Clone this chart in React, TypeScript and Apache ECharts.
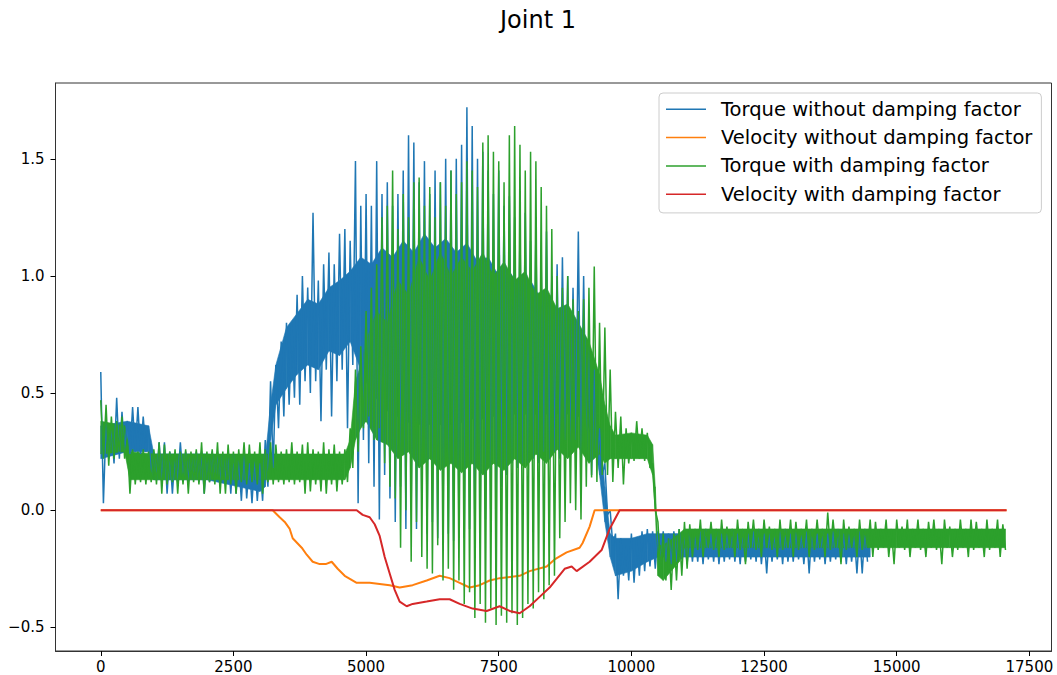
import React, { useEffect, useRef } from "react";
import * as echarts from "echarts";

const TITLE = "Joint 1";
const NAMES = [
  "Torque without damping factor",
  "Velocity without damping factor",
  "Torque with damping factor",
  "Velocity with damping factor",
];
const COLORS = ["#1f77b4", "#ff7f0e", "#2ca02c", "#d62728"];
const X_TICKS = [0, 2500, 5000, 7500, 10000, 12500, 15000, 17500];
const Y_TICKS = [-0.5, 0, 0.5, 1.0, 1.5];

// torque series: per 100-sample bin, the local max (hi) and local min (lo)
const BIN_SAMPLES = 100;

const blueHi = [
  0.59, 0.38, 0.36, 0.48, 0.42, 0.38, 0.44, 0.44, 0.40, 0.36,
  0.25, 0.29, 0.29, 0.25, 0.24, 0.29, 0.25, 0.24, 0.25, 0.25,
  0.24, 0.25, 0.25, 0.24, 0.25, 0.24, 0.22, 0.25, 0.20, 0.22,
  0.20, 0.30, 0.55, 0.62, 0.72, 0.80, 0.80, 0.92, 1.00, 0.95,
  1.27, 0.98, 1.05, 1.10, 1.05, 1.18, 1.20, 1.15, 1.49, 1.30,
  1.35, 1.30, 1.49, 1.35, 1.40, 1.30, 1.35, 1.45, 1.60, 1.57,
  1.40, 1.49, 1.35, 1.45, 1.40, 1.50, 1.45, 1.50, 1.56, 1.72,
  1.64, 1.50, 1.53, 1.45, 1.35, 1.45, 1.30, 1.34, 1.25, 1.20,
  1.27, 1.15, 1.19, 1.05, 1.19, 1.00, 1.05, 1.08, 1.00, 0.95,
  1.19, 1.00, 0.70, 0.60, 0.35, 0.20, 0.00, -0.10, -0.12, -0.15,
  -0.10, -0.12, -0.09, -0.08, -0.09, -0.09,
  -0.09, -0.10, -0.09, -0.08, -0.10, -0.09, -0.10, -0.09, -0.08, -0.10,
  -0.09, -0.10, -0.09, -0.08, -0.10, -0.09, -0.10, -0.09, -0.08, -0.10,
  -0.09, -0.10, -0.09, -0.08, -0.10, -0.09, -0.10, -0.09, -0.08, -0.10,
  -0.09, -0.10, -0.09, -0.08, -0.10, -0.09, -0.10, -0.09, -0.08,
];
const blueLo = [
  0.03, 0.22, 0.20, 0.22, 0.25, 0.24, 0.25, 0.24, 0.25, 0.14,
  0.13, 0.12, 0.07, 0.07, 0.12, 0.13, 0.12, 0.13, 0.12, 0.07,
  0.12, 0.13, 0.12, 0.12, 0.07, 0.07, 0.04, 0.05, 0.03, 0.04,
  0.04, 0.10, 0.18, 0.35, 0.40, 0.45, 0.48, 0.45, 0.55, 0.50,
  0.55, 0.38, 0.60, 0.40, 0.55, 0.60, 0.35, 0.62, 0.03, 0.30,
  0.20, 0.10, -0.04, 0.15, 0.05, -0.05, 0.10, -0.08, 0.00, -0.08,
  0.05, -0.10, -0.05, -0.12, -0.06, -0.10, -0.13, -0.08, -0.12, -0.08,
  -0.12, -0.08, -0.04, -0.02, 0.05, 0.10, 0.15, 0.20, 0.18, 0.20,
  0.20, 0.22, 0.20, 0.25, 0.22, 0.25, 0.22, 0.30, 0.25, 0.30,
  0.20, 0.25, 0.15, 0.20, 0.15, -0.02, -0.15, -0.38, -0.28, -0.30,
  -0.31, -0.28, -0.26, -0.24, -0.25, -0.22,
  -0.22, -0.23, -0.22, -0.21, -0.23, -0.22, -0.22, -0.23, -0.21, -0.22,
  -0.23, -0.22, -0.21, -0.22, -0.23, -0.22, -0.21, -0.22, -0.23, -0.27,
  -0.22, -0.21, -0.23, -0.22, -0.22, -0.21, -0.23, -0.27, -0.22, -0.21,
  -0.23, -0.22, -0.21, -0.22, -0.23, -0.22, -0.27, -0.27, -0.22,
];

const greenHi = [
  0.47, 0.45, 0.40, 0.38, 0.40, 0.30, 0.26, 0.25, 0.26, 0.25,
  0.26, 0.29, 0.28, 0.25, 0.26, 0.25, 0.26, 0.25, 0.26, 0.29,
  0.25, 0.26, 0.29, 0.25, 0.28, 0.25, 0.26, 0.29, 0.28, 0.25,
  0.29, 0.26, 0.29, 0.28, 0.25, 0.26, 0.29, 0.25, 0.28, 0.29,
  0.26, 0.25, 0.29, 0.26, 0.28, 0.25, 0.26, 0.35, 0.60, 0.70,
  0.85, 0.95, 1.05, 1.25, 1.30, 1.45, 1.20, 1.35, 1.25, 1.40,
  1.42, 1.30, 1.38, 1.25, 1.40, 1.30, 1.45, 1.35, 1.40, 1.49,
  1.45, 1.38, 1.57, 1.60, 1.53, 1.49, 1.40, 1.60, 1.64, 1.56,
  1.45, 1.53, 1.49, 1.38, 1.30, 1.20, 1.00, 0.95, 1.00, 0.90,
  0.85, 0.90, 0.95, 1.04, 0.80, 0.78, 0.60, 0.42, 0.40, 0.35,
  0.33, 0.38, 0.35, 0.33, 0.20, -0.05, -0.10, -0.12, -0.10, -0.08,
  -0.05, -0.06,
  -0.08, -0.04, -0.08, -0.05, -0.08, -0.04, -0.07, -0.08, -0.04, -0.08,
  -0.05, -0.04, -0.08, -0.04, -0.07, -0.08, -0.04, -0.08, -0.04, -0.05,
  -0.08, -0.04, -0.08, -0.04, -0.08, -0.01, -0.04, -0.08, -0.04, -0.07,
  -0.08, -0.04, -0.08, -0.04, -0.05, -0.08, -0.04, -0.08, -0.04, -0.07,
  -0.04, -0.08, -0.04, -0.08, -0.05, -0.04, -0.08, -0.04, -0.07, -0.08,
  -0.04, -0.08, -0.04, -0.05, -0.08, -0.04, -0.08, -0.04, -0.06,
];
const greenLo = [
  0.22, 0.19, 0.22, 0.25, 0.22, 0.07, 0.11, 0.12, 0.11, 0.12,
  0.11, 0.07, 0.11, 0.12, 0.07, 0.11, 0.07, 0.12, 0.11, 0.07,
  0.12, 0.11, 0.07, 0.07, 0.11, 0.07, 0.12, 0.11, 0.12, 0.11,
  0.07, 0.12, 0.11, 0.12, 0.11, 0.12, 0.11, 0.12, 0.07, 0.08,
  0.11, 0.08, 0.07, 0.11, 0.08, 0.11, 0.12, 0.18, 0.25, 0.35,
  0.40, 0.30, 0.35, 0.20, 0.10, 0.05, -0.16, 0.00, -0.22, -0.05,
  -0.20, -0.25, -0.27, -0.15, -0.30, -0.25, -0.34, -0.30, -0.40, -0.35,
  -0.46, -0.40, -0.48, -0.42, -0.49, -0.45, -0.48, -0.44, -0.49, -0.46,
  -0.40, -0.42, -0.35, -0.38, -0.32, -0.28, -0.12, -0.05, 0.03, 0.00,
  -0.04, 0.10, 0.14, 0.12, 0.15, 0.15, 0.12, 0.18, 0.11, 0.20,
  0.21, 0.22, 0.21, 0.18, 0.00, -0.25, -0.30, -0.34, -0.30, -0.28,
  -0.25, -0.20,
  -0.17, -0.20, -0.16, -0.17, -0.20, -0.17, -0.16, -0.20, -0.17, -0.23,
  -0.16, -0.17, -0.20, -0.16, -0.17, -0.20, -0.17, -0.16, -0.20, -0.17,
  -0.16, -0.20, -0.17, -0.16, -0.20, -0.17, -0.16, -0.23, -0.17, -0.16,
  -0.20, -0.17, -0.16, -0.20, -0.17, -0.16, -0.20, -0.23, -0.16, -0.17,
  -0.20, -0.16, -0.17, -0.20, -0.16, -0.17, -0.23, -0.16, -0.20, -0.17,
  -0.16, -0.20, -0.17, -0.16, -0.20, -0.17, -0.16, -0.20, -0.17,
];

// dense core of each torque trace (where the trace fills solidly)
const blueCoreX = [
  0, 500, 900, 1000, 2000, 3000, 3100, 3200, 3300, 3500,
  3700, 3900, 4100, 4300, 4500, 4700, 4900, 5100, 5300, 5500,
  5700, 5900, 6100, 6300, 6500, 6700, 6900, 7100, 7300, 7500,
  7700, 7900, 8100, 8300, 8500, 8700, 8900, 9100, 9300, 9400,
  9500, 9600, 9700, 10000, 10300, 10500, 11000, 12000, 13000, 14000, 14500,
];
const blueCoreLo = [
  0.22, 0.25, 0.25, 0.13, 0.13, 0.08, 0.10, 0.30, 0.45, 0.52,
  0.58, 0.62, 0.60, 0.68, 0.66, 0.72, 0.60, 0.50, 0.45, 0.40,
  0.40, 0.35, 0.38, 0.35, 0.38, 0.35, 0.40, 0.38, 0.40, 0.40,
  0.40, 0.42, 0.40, 0.42, 0.40, 0.42, 0.40, 0.40, 0.30, 0.15,
  -0.05, -0.20, -0.28, -0.26, -0.22, -0.20, -0.20, -0.20, -0.20, -0.20, -0.20,
];
const blueCoreHi = [
  0.36, 0.38, 0.36, 0.24, 0.24, 0.20, 0.22, 0.45, 0.62, 0.78,
  0.84, 0.90, 0.88, 0.95, 0.98, 1.02, 1.08, 1.05, 1.12, 1.08,
  1.15, 1.10, 1.18, 1.12, 1.16, 1.10, 1.14, 1.06, 1.08, 1.00,
  1.02, 0.95, 0.98, 0.90, 0.88, 0.84, 0.80, 0.72, 0.50, 0.35,
  0.10, -0.10, -0.12, -0.12, -0.10, -0.10, -0.10, -0.10, -0.10, -0.10, -0.10,
];
const greenCoreX = [
  0, 450, 550, 1000, 2000, 3000, 4000, 4600, 4700, 4800,
  4900, 5000, 5200, 5400, 5600, 5800, 6000, 6200, 6400, 6600,
  6800, 7000, 7200, 7400, 7600, 7800, 8000, 8200, 8400, 8600,
  8800, 9000, 9200, 9400, 9500, 9600, 9700, 10000, 10300, 10400,
  10450, 10500, 10600, 10900, 11000, 12000, 13000, 14000, 15000, 16000, 17050,
];
const greenCoreLo = [
  0.24, 0.25, 0.13, 0.13, 0.13, 0.13, 0.13, 0.13, 0.18, 0.30,
  0.35, 0.38, 0.30, 0.28, 0.22, 0.25, 0.18, 0.22, 0.17, 0.20,
  0.16, 0.20, 0.15, 0.20, 0.17, 0.22, 0.18, 0.24, 0.20, 0.26,
  0.22, 0.27, 0.20, 0.24, 0.20, 0.22, 0.22, 0.22, 0.22, 0.15,
  0.00, -0.28, -0.30, -0.22, -0.16, -0.16, -0.16, -0.16, -0.16, -0.16, -0.16,
];
const greenCoreHi = [
  0.38, 0.36, 0.25, 0.24, 0.24, 0.24, 0.24, 0.24, 0.30, 0.55,
  0.62, 0.72, 0.85, 0.80, 0.98, 0.92, 1.08, 0.98, 1.10, 1.00,
  1.08, 1.02, 1.10, 1.00, 1.06, 0.98, 1.02, 0.92, 0.95, 0.86,
  0.88, 0.80, 0.72, 0.58, 0.45, 0.36, 0.32, 0.33, 0.32, 0.28,
  0.10, -0.15, -0.15, -0.10, -0.08, -0.08, -0.08, -0.08, -0.08, -0.08, -0.08,
];

// velocity series: sample index and value
const orangeX = [
  0, 3240, 3372, 3467, 3561, 3617, 3787, 3881, 3994, 4126, 4239, 4352, 4465,
  4597, 4823, 5068, 5445, 5633, 5878, 6142, 6387, 6575, 6764, 6952, 7140,
  7329, 7517, 7894, 8082, 8403, 8553, 8779, 9024, 9081, 9213, 9307, 17070,
];
const orangeY = [
  0, 0, -0.03, -0.05, -0.08, -0.12, -0.16, -0.19, -0.22, -0.23, -0.23, -0.22,
  -0.25, -0.28, -0.31, -0.31, -0.32, -0.33, -0.32, -0.30, -0.28, -0.29, -0.31,
  -0.33, -0.32, -0.30, -0.29, -0.28, -0.26, -0.24, -0.21, -0.18, -0.16, -0.14,
  -0.07, 0, 0,
];
const redX = [
  0, 4823, 4936, 5068, 5162, 5256, 5351, 5445, 5539, 5633, 5765, 5878, 6142,
  6387, 6575, 6764, 7008, 7272, 7517, 7706, 7894, 8082, 8271, 8459, 8742,
  8874, 8968, 9213, 9439, 9590, 9778, 17070,
];
const redY = [
  0, 0, -0.02, -0.03, -0.06, -0.11, -0.2, -0.27, -0.34, -0.39, -0.41, -0.4,
  -0.39, -0.38, -0.38, -0.4, -0.42, -0.43, -0.41, -0.43, -0.44, -0.41, -0.37,
  -0.33, -0.25, -0.24, -0.26, -0.22, -0.17, -0.08, 0, 0,
];

function zigzag(hi: number[], lo: number[]) {
  const out: number[][] = [];
  for (let i = 0; i < hi.length; i++) {
    out.push([i * BIN_SAMPLES, hi[i]]);
    out.push([i * BIN_SAMPLES + BIN_SAMPLES / 2, lo[i]]);
  }
  return out;
}
function pairs(xs: number[], ys: number[]) {
  return xs.map((x, i) => [x, ys[i]]);
}
function bandRows(xs: number[], lo: number[], hi: number[]) {
  const rows: number[][] = [];
  for (let i = 0; i < xs.length - 1; i++) {
    rows.push([xs[i], lo[i], hi[i], xs[i + 1], lo[i + 1], hi[i + 1]]);
  }
  return rows;
}

const FONT = "DejaVu Sans";
const LEGEND_LINE = "path://M0,0H40V1.5H0Z";

export default function App() {
  const ref = useRef<HTMLDivElement>(null);
  useEffect(() => {
    if (!ref.current) return;
    const chart = echarts.init(ref.current, undefined, { renderer: "svg" });
    const lineSeries = (idx: number, data: number[][], width: number) => ({
      type: "line",
      name: NAMES[idx],
      data,
      symbol: "none",
      showSymbol: false,
      color: COLORS[idx],
      lineStyle: { width, color: COLORS[idx] },
      itemStyle: { color: COLORS[idx] },
      emphasis: { disabled: true },
      silent: true,
    });
    const bandSeries = (idx: number, xs: number[], lo: number[], hi: number[]) => ({
      type: "custom",
      name: "core " + idx,
      data: bandRows(xs, lo, hi),
      encode: { x: [0, 3], y: [1, 2, 4, 5] },
      color: COLORS[idx],
      silent: true,
      renderItem: (params: any, api: any) => {
        const a = api.coord([api.value(0), api.value(1)]);
        const b = api.coord([api.value(0), api.value(2)]);
        const c = api.coord([api.value(3), api.value(5)]);
        const d = api.coord([api.value(3), api.value(4)]);
        return {
          type: "polygon",
          shape: { points: [a, b, c, d] },
          style: { fill: COLORS[idx], stroke: COLORS[idx], lineWidth: 0.6 },
        };
      },
    });
    chart.setOption({
      animation: false,
      backgroundColor: "#ffffff",
      title: {
        text: TITLE,
        left: 538,
        top: 8,
        padding: 0,
        textAlign: "center",
        textStyle: { fontSize: 24, fontWeight: "normal", fontFamily: FONT, color: "#000" },
      },
      legend: {
        data: NAMES,
        orient: "vertical",
        left: 659,
        top: 93,
        icon: LEGEND_LINE,
        symbolKeepAspect: true,
        itemWidth: 40,
        itemHeight: 20,
        itemGap: 8.3,
        padding: [6.3, 9, 8.7, 7],
        backgroundColor: "rgba(255,255,255,0.8)",
        borderColor: "#cccccc",
        borderWidth: 1,
        borderRadius: 4,
        textStyle: {
          fontSize: 19.5,
          lineHeight: 20,
          fontFamily: FONT,
          color: "#000",
          padding: [0, 0, 0, 10],
        },
      },
      grid: {
        left: 55.5,
        right: 5.5,
        top: 83,
        bottom: 24,
        show: true,
        borderColor: "#333",
        borderWidth: 1,
        backgroundColor: "transparent",
      },
      xAxis: {
        type: "value",
        min: -853,
        max: 17917,
        splitLine: { show: false },
        axisLine: { show: true, onZero: false, lineStyle: { color: "#333", width: 1 } },
        axisTick: { show: true, customValues: X_TICKS, length: 5, lineStyle: { color: "#000" } },
        axisLabel: {
          customValues: X_TICKS,
          fontSize: 15,
          fontFamily: FONT,
          color: "#000",
          margin: 8,
          formatter: (v: number) => String(v),
        },
      },
      yAxis: {
        type: "value",
        min: -0.601,
        max: 1.8235,
        splitLine: { show: false },
        axisLine: { show: true, onZero: false, lineStyle: { color: "#333", width: 1 } },
        axisTick: { show: true, customValues: Y_TICKS, length: 5, lineStyle: { color: "#000" } },
        axisLabel: {
          customValues: Y_TICKS,
          fontSize: 15,
          fontFamily: FONT,
          color: "#000",
          margin: 11,
          formatter: (v: number) => (v < 0 ? "\u2212" : "") + Math.abs(v).toFixed(1),
        },
      },
      series: [
        bandSeries(0, blueCoreX, blueCoreLo, blueCoreHi),
        lineSeries(0, zigzag(blueHi, blueLo), 1.5),
        lineSeries(1, pairs(orangeX, orangeY), 2),
        bandSeries(2, greenCoreX, greenCoreLo, greenCoreHi),
        lineSeries(2, zigzag(greenHi, greenLo), 1.5),
        lineSeries(3, pairs(redX, redY), 2),
      ],
    });
    return () => chart.dispose();
  }, []);
  return (
    <div
      ref={ref}
      style={{ position: "fixed", left: 0, top: 0, width: 1057, height: 675 }}
    />
  );
}
